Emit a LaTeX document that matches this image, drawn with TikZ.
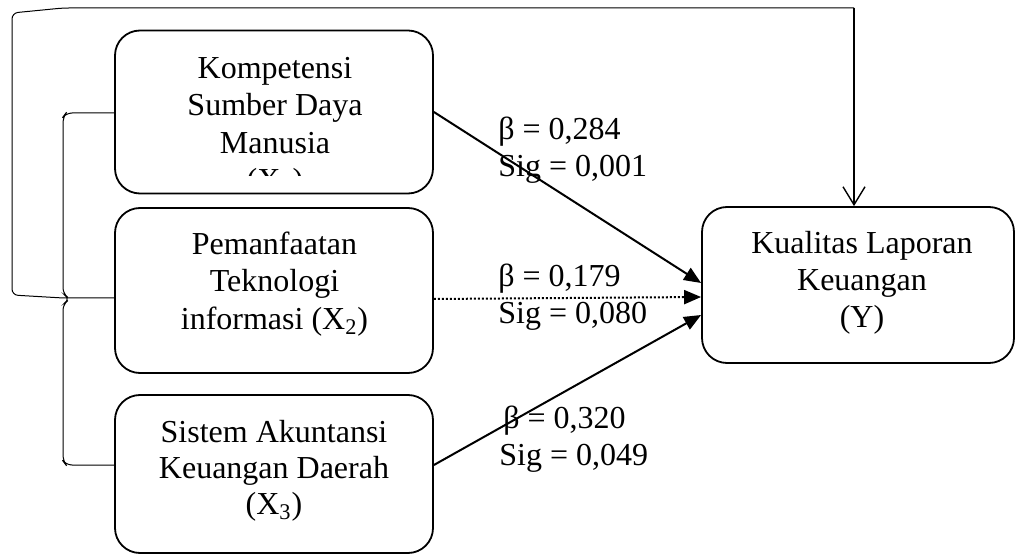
\documentclass[tikz,border=0pt]{standalone}
\usepackage{fontspec}
\setmainfont{Liberation Serif}
\usetikzlibrary{arrows.meta}
\begin{document}
\begin{tikzpicture}[x=0.5pt,y=-0.5pt,
  box/.style={draw,line width=0.9pt,rounded corners=12.5pt,inner sep=0pt},
  txt/.style={font=\fontsize{16}{18.5}\selectfont,inner sep=0pt,anchor=base},
  lab/.style={font=\fontsize{16}{18.5}\selectfont,inner sep=0pt,anchor=base west},
  ar/.style={line width=1pt,-{Triangle[length=8.5pt,width=7pt]}},
  brk/.style={line width=0.5pt,rounded corners=3pt},
  fb/.style={line width=0.7pt,rounded corners=1pt,-{Straight Barb[length=9pt,width=11pt,line width=0.7pt]}}]
\useasboundingbox (0,0) rectangle (1016,555);
% boxes
\node[box,minimum width=159pt,minimum height=81.5pt] (b1) at (274,112) {};
\node[box,minimum width=159pt,minimum height=82.5pt] (b2) at (274,290.5) {};
\node[box,minimum width=159pt,minimum height=79pt] (b3) at (274,474) {};
\node[box,minimum width=156pt,minimum height=78pt] (y) at (858,285) {};
% box texts
\begin{scope}
\clip (115,30) rectangle (433,176);
\node[txt] (t1a) at (275,79) {Kompetensi};
\node[txt] (t1b) at (275,116) {Sumber Daya};
\node[txt] (t1c) at (275,154) {Manusia};
\node[txt] (t1d) at (275,191) {(X\textsubscript{1})};
\end{scope}
\node[txt] (t2a) at (274.5,255) {Pemanfaatan};
\node[txt] (t2b) at (274.5,292) {Teknologi};
\node[txt] (t2c) at (274.5,329) {informasi (X\textsubscript{2})};
\node[txt] (t3a) at (274,442) {Sistem Akuntansi};
\node[txt] (t3b) at (274,478) {Keuangan Daerah};
\node[txt] (t3c) at (274,514) {(X\textsubscript{3})};
\node[txt] (tya) at (862,254) {Kualitas Laporan};
\node[txt] (tyb) at (862,291) {Keuangan};
\node[txt] (tyc) at (862,328) {(Y)};
% arrows
\draw[ar] (b1.east) -- (y.west |- 0,283);
\draw[ar,dash pattern=on 1pt off 1pt] (b2.east |- 0,299) -- (y.west |- 0,297);
\draw[ar] (b3.east |- 0,465) -- (y.west |- 0,315);
% labels
\node[lab] (l1a) at (498,140) {β = 0,284};
\node[lab] (l1b) at (498,177) {Sig = 0,001};
\node[lab] (l2a) at (498,287) {β = 0,179};
\node[lab] (l2b) at (498,323) {Sig = 0,080};
\node[lab] (l3a) at (503,428) {β = 0,320};
\node[lab] (l3b) at (499,465) {Sig = 0,049};
% brackets
\draw[brk] (b1.west |- 0,113) -- (66,113) -- (63,117) -- (63,294) -- (70,299) -- (63,304) -- (63,461) -- (66,465) -- (b3.west |- 0,465);
\draw[brk] (b2.west |- 0,298) -- (63,298) -- (12,295) -- (12,13) -- (63,8) -- (854,8);
\draw[fb] (854,8) -- (y.north -| 854,0);
\end{tikzpicture}
\end{document}
